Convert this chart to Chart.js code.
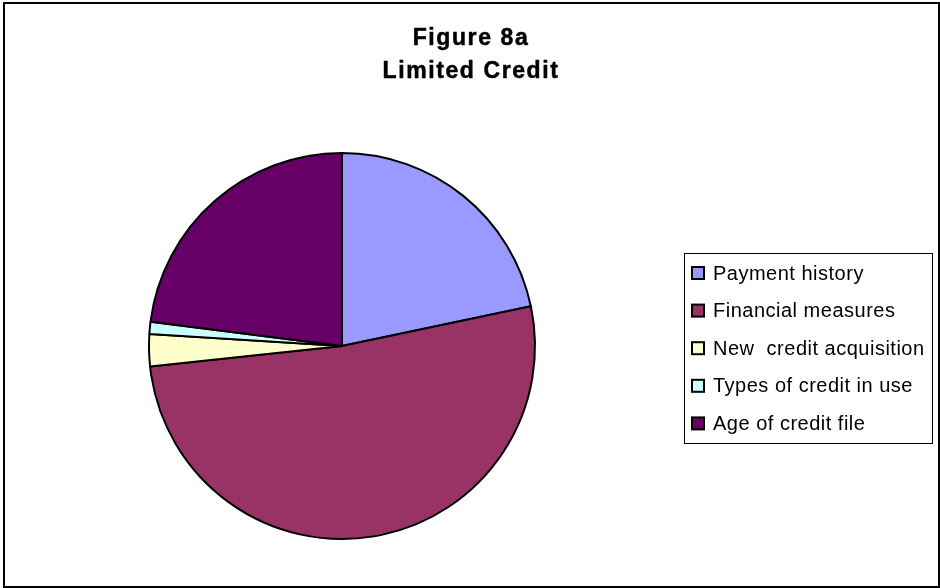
<!DOCTYPE html>
<html>
<head>
<meta charset="utf-8">
<script src="https://cdn.jsdelivr.net/npm/chart.js@4.4.0/dist/chart.umd.min.js"></script>
<style>
html,body{margin:0;padding:0;background:#fff;}
#wrap{width:940px;height:588px;position:relative;}
</style>
</head>
<body>
<div id="wrap"><canvas id="c"></canvas></div>
<script>
const titleLines = ["Figure 8a", "Limited Credit"];
const categories = ["Payment history", "Financial measures", "New  credit acquisition", "Types of credit in use", "Age of credit file"];
const shares = [21.7, 51.6, 2.7, 1.0, 23.0];
const sliceColors = ["#9999FF", "#993366", "#FFFFCC", "#CCFFFF", "#660066"];

const frame = {
  id: 'frame',
  beforeDraw(chart) {
    const ctx = chart.ctx;
    ctx.save();
    ctx.fillStyle = '#fff';
    ctx.fillRect(0, 0, chart.width, chart.height);
    ctx.restore();
  },
  afterDraw(chart) {
    const ctx = chart.ctx;
    ctx.save();
    // outer border
    ctx.strokeStyle = '#000';
    ctx.lineWidth = 2;
    ctx.strokeRect(4, 3, 935, 584);
    // title
    ctx.fillStyle = '#000';
    ctx.strokeStyle = '#000';
    ctx.lineWidth = 0.5;
    ctx.font = 'bold 23px "Liberation Sans", Arial, sans-serif';
    ctx.textAlign = 'center';
    ctx.textBaseline = 'alphabetic';
    if ('letterSpacing' in ctx) ctx.letterSpacing = '1.6px';
    ctx.fillText(titleLines[0], 471, 45);
    ctx.strokeText(titleLines[0], 471, 45);
    ctx.fillText(titleLines[1], 471, 78);
    ctx.strokeText(titleLines[1], 471, 78);
    // legend
    const labels = chart.data.labels;
    const ds = chart.data.datasets[0];
    ctx.lineWidth = 1;
    ctx.strokeStyle = '#000';
    ctx.strokeRect(684.5, 253.5, 248, 190);
    ctx.font = '20px "Liberation Sans", Arial, sans-serif';
    ctx.textAlign = 'left';
    ctx.textBaseline = 'middle';
    if ('letterSpacing' in ctx) ctx.letterSpacing = '0.5px';
    labels.forEach((lab, i) => {
      const y = 273 + i * 37.6;
      ctx.fillStyle = ds.backgroundColor[i];
      ctx.fillRect(692, y - 6, 12, 12);
      ctx.lineWidth = 2;
      ctx.strokeStyle = '#000';
      ctx.strokeRect(692, y - 6, 12, 12);
      ctx.fillStyle = '#000';
      ctx.fillText(lab, 713, y + 1);
    });
    ctx.restore();
  }
};

new Chart(document.getElementById('c'), {
  type: 'pie',
  data: {
    labels: categories,
    datasets: [{
      data: shares,
      backgroundColor: sliceColors,
      borderColor: '#000',
      borderWidth: 2
    }]
  },
  options: {
    responsive: true,
    maintainAspectRatio: false,
    animation: false,
    events: [],
    layout: { padding: { left: 148, top: 152, right: 404, bottom: 48 } },
    plugins: {
      legend: { display: false },
      title: { display: false },
      tooltip: { enabled: false }
    }
  },
  plugins: [frame]
});
</script>
</body>
</html>
